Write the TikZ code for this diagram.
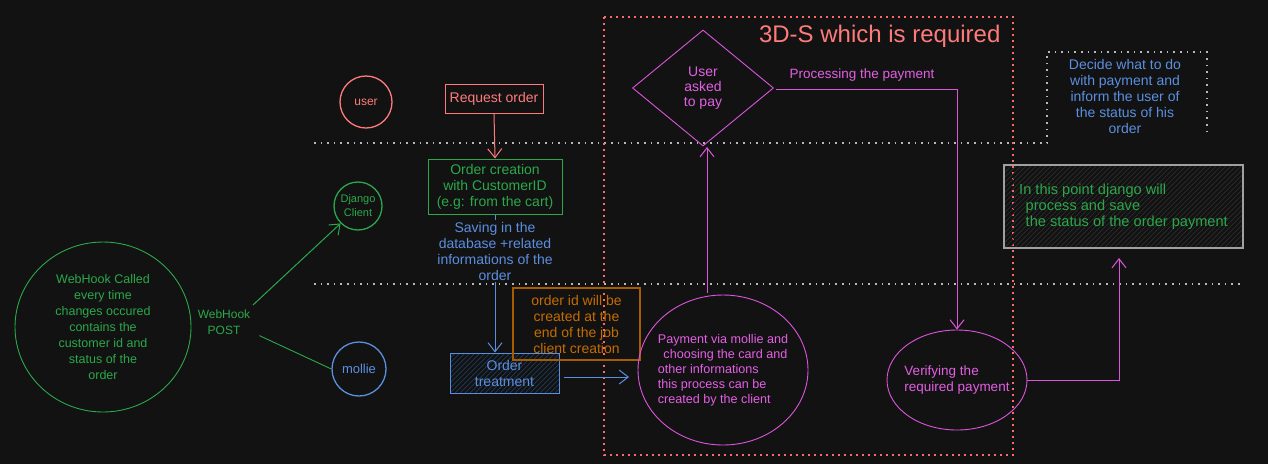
\documentclass[tikz,border=0pt]{standalone}
\usepackage{fontspec}
\setmainfont{Liberation Sans}
\usetikzlibrary{arrows.meta,shapes.geometric}
\begin{document}
\definecolor{bg}{HTML}{121212}
\definecolor{salmon}{HTML}{FF7B7B}
\definecolor{grn}{HTML}{2BA84A}
\definecolor{blu}{HTML}{5B8FE0}
\definecolor{mag}{HTML}{DC55DC}
\definecolor{magtxt}{HTML}{E35FE3}
\definecolor{orgbox}{HTML}{A85C00}
\definecolor{orgtxt}{HTML}{C56C00}
\definecolor{gry}{HTML}{B8B8B8}
\definecolor{boxgry}{HTML}{A0A0A0}
\definecolor{hatchb}{HTML}{1F3A5A}
\definecolor{hatchg}{HTML}{2C2C2C}
\tikzset{
  txt/.style={align=center, inner sep=1pt},
  fs/.style={font=\fontsize{#1}{16}\selectfont},
  arr/.style={line width=1pt, -{Straight Barb[length=9pt,width=14pt,line width=1pt]}},
  conn/.style={line width=0.9pt},
  grydot/.style={gry, line width=1.6pt, dash pattern=on 1.6pt off 5pt},
  reddot/.style={salmon!85!red, line width=1.6pt, dash pattern=on 1.6pt off 4.4pt},
  hatch/.style={path picture={\foreach \k in {-120,-115,...,260} \draw[#1, line width=0.7pt] ([xshift=\k pt]path picture bounding box.south west) -- ++(110,-110);}},
}
\begin{tikzpicture}[x=1pt,y=-1pt]
\fill[bg] (0,0) rectangle (1268,464);
\useasboundingbox (0,0) rectangle (1268,464);
% swimlane separators
\draw[grydot] (314,143) -- (1047,143) -- (1047,52) -- (1207,52) -- (1207,136);
\draw[grydot] (314,284) -- (1240,284);
% 3D-S frame
\draw[reddot] (604,17) rectangle (1013,455);
\node[text=salmon, font=\fontsize{24}{28}\selectfont, anchor=east] (title) at (1004,36) {3D-S which is required};

% user lane
\node[circle, draw=salmon, line width=1.3pt, minimum size=52pt, inner sep=0pt, txt, text=salmon, fs=12] (user) at (366,102) {user};
\node[draw=salmon, line width=1pt, minimum width=98pt, minimum height=29pt, txt, text=salmon, fs=14] (req) at (494,98.5) {Request order};

% django lane
\node[circle, draw=grn, line width=1.3pt, minimum size=48pt, inner sep=0pt, txt, text=grn, font=\fontsize{11}{14}\selectfont] (dj) at (358,206) {Django\\Client};
\node[draw=grn, line width=1pt, minimum width=134pt, minimum height=55pt, txt, text=grn, fs=14] (oc) at (495,186.5) {Order creation\\with CustomerID\\(e.g: from the cart)};

% webhook
\node[ellipse, draw=grn, line width=0.9pt, minimum width=176pt, minimum height=170pt, inner sep=0pt, txt, text=grn, fs=12.5] (wh) at (103,327) {WebHook Called\\every time\\changes occured\\contains the\\customer id and\\status of the\\order};
\node[txt, text=grn, fs=12] (wp) at (224,322) {WebHook\\POST};

% mollie lane
\node[circle, draw=blu, line width=1.3pt, minimum size=54pt, inner sep=0pt, txt, text=blu, fs=13] (mol) at (359,369) {mollie};
\node[draw=blu, line width=1pt, minimum width=109pt, minimum height=40pt, hatch=hatchb, txt, text=blu, fs=14] (ot) at (504.5,373) {Order\\treatment};
\node[draw=orgbox, line width=1.3pt, minimum width=127pt, minimum height=72pt, txt, text=orgtxt, fs=14] (oid) at (576.5,324) {order id will be\\created at the\\end of the job\\client creation};

% payment
\node[ellipse, draw=mag, line width=0.9pt, minimum width=170pt, minimum height=150pt, inner xsep=-14pt, inner ysep=0pt, text=magtxt, font=\fontsize{12.6}{15}\selectfont, align=left] (pay) at (723,370) {Payment via mollie and\\\ \,choosing the card and\\other informations\\this process can be\\created by the client};
\node[diamond, draw=mag, line width=0.9pt, minimum width=141pt, minimum height=116pt, inner sep=0pt, aspect=1.2, txt, text=magtxt, font=\fontsize{14}{15}\selectfont] (dia) at (703,88) {User\\asked\\to pay};
\node[text=magtxt, txt, fs=13.5] (proc) at (862,75) {Processing the payment};
\node[ellipse, draw=mag, line width=0.9pt, minimum width=140pt, minimum height=100pt, inner xsep=-5pt, inner ysep=0pt, text=magtxt, fs=13.5, align=left] (ver) at (957,380) {Verifying the\\required payment};

% right side
\node[txt, text=blu, fs=14] (dec) at (1125,96) {Decide what to do\\with payment and\\inform the user of\\the status of his\\order};
\node[draw=boxgry, line width=1.2pt, minimum width=239pt, minimum height=83pt, hatch=hatchg, text=grn, fs=14.6, align=left, inner sep=0pt] (dsave) at (1123.5,206.5) {In this point django will\\\ \,process and save\\\ \,the status of the order payment};
\coordinate (up) at (1119,258);
\coordinate (payup) at (707,293);
\coordinate (diad) at (707,147);
\coordinate (payin) at (629,377);

% connectors
\draw[arr, salmon] (req.south) -- (oc.north);
\draw[arr, blu] (oc.south) -- (oc.south |- ot.north);
\node[txt, text=blu, fill=bg, fs=14, inner sep=2pt] (save) at (495,251) {Saving in the\\database +related\\informations of the\\order};
\draw[arr, blu] (ot.east |- payin) ++(4,0) -- (payin);
\draw[arr, mag] (payup) -- (diad);
\draw[arr, mag] (dia.east) ++(2,1) -| (ver.north);
\draw[arr, mag] (ver.east) -| (up);
\draw[arr, grn, shorten <=2pt] (wp.north east) ++(0,-2) -- (dj.south west);
\draw[conn, grn] (wp.south east) ++(8,0) -- (mol.west);
\end{tikzpicture}
\end{document}
